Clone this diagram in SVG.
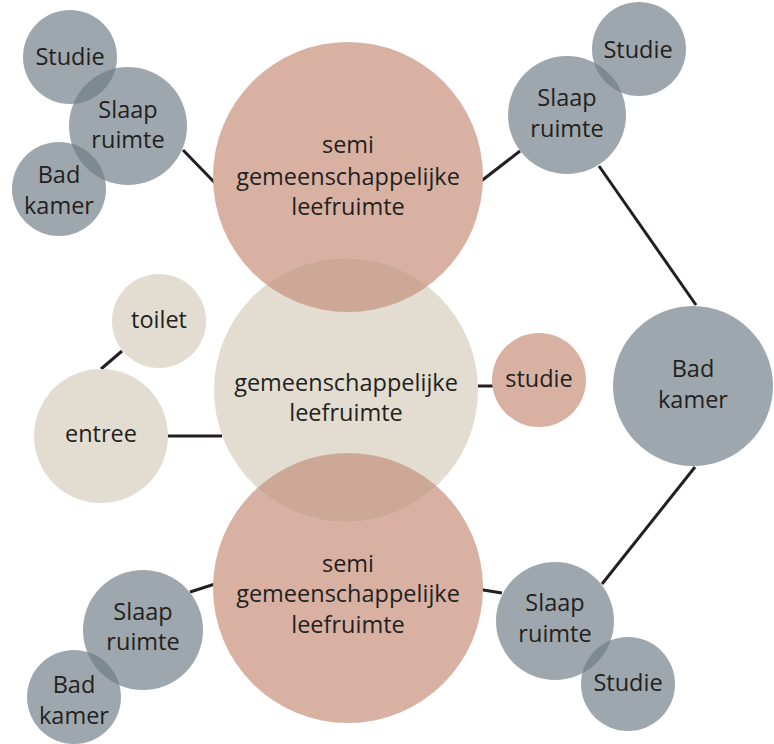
<svg xmlns="http://www.w3.org/2000/svg" width="774" height="744" viewBox="0 0 774 744">
<defs>
<style>
.grey{fill:#9ea7ad}
.pink{fill:#d8b1a3}
.beige{fill:#e2ddd0}
.lensg{fill:#7e8a91}
.lensp{fill:#cda896}
.conn{stroke:#231f20;stroke-width:3;fill:none}
text{font-family:"Open Sans","Noto Sans",sans-serif;font-size:23.5px;fill:#231f20;text-anchor:middle}
</style>
<clipPath id="c-tl-slaap"><circle cx="128" cy="126" r="59"/></clipPath>
<clipPath id="c-tr-slaap"><circle cx="567" cy="115" r="59"/></clipPath>
<clipPath id="c-bl-slaap"><circle cx="143" cy="630" r="60"/></clipPath>
<clipPath id="c-br-slaap"><circle cx="555" cy="621" r="59"/></clipPath>
<clipPath id="c-mid"><circle cx="346" cy="390" r="132"/></clipPath>
</defs>
<rect width="774" height="744" fill="#fff"/>
<g id="connectors">
<line class="conn" x1="183" y1="150" x2="215" y2="183"/>
<line class="conn" x1="480" y1="182" x2="520" y2="151"/>
<line class="conn" x1="599" y1="166" x2="696" y2="305"/>
<line class="conn" x1="695" y1="467" x2="602" y2="584"/>
<line class="conn" x1="478" y1="386" x2="493" y2="386"/>
<line class="conn" x1="122" y1="351" x2="101" y2="369"/>
<line class="conn" x1="167" y1="436" x2="222" y2="436"/>
<line class="conn" x1="190" y1="592" x2="215" y2="584"/>
<line class="conn" x1="477" y1="589" x2="502" y2="593"/>
</g>
<g id="semi-top"><circle class="pink" cx="348" cy="177" r="135"/></g>
<g id="semi-bottom"><circle class="pink" cx="348" cy="588" r="135"/></g>
<g id="gemeenschappelijk"><circle class="beige" cx="346" cy="390" r="132"/></g>
<g id="lens-mid">
<circle class="lensp" cx="348" cy="177" r="135" clip-path="url(#c-mid)"/>
<circle class="lensp" cx="348" cy="588" r="135" clip-path="url(#c-mid)"/>
</g>
<g id="semi-top-label"><text x="348" y="153">semi</text><text x="348" y="185">gemeenschappelijke</text><text x="348" y="215">leefruimte</text></g>
<g id="semi-bottom-label"><text x="348" y="572">semi</text><text x="348" y="602">gemeenschappelijke</text><text x="348" y="633">leefruimte</text></g>
<g id="gemeenschappelijk-label"><text x="346" y="391">gemeenschappelijke</text><text x="346" y="421">leefruimte</text></g>

<g id="tl-studie"><circle class="grey" cx="70" cy="57" r="47"/></g>
<g id="tl-bad"><circle class="grey" cx="59" cy="189" r="47"/></g>
<g id="tl-slaap"><circle class="grey" cx="128" cy="126" r="59"/></g>
<g id="tr-studie"><circle class="grey" cx="639" cy="49" r="47"/></g>
<g id="tr-slaap"><circle class="grey" cx="567" cy="115" r="59"/></g>
<g id="bl-slaap"><circle class="grey" cx="143" cy="630" r="60"/></g>
<g id="bl-bad"><circle class="grey" cx="74" cy="697" r="47"/></g>
<g id="br-slaap"><circle class="grey" cx="555" cy="621" r="59"/></g>
<g id="br-studie"><circle class="grey" cx="628" cy="684" r="47"/></g>
<g id="overlaps">
<circle class="lensg" cx="70" cy="57" r="47" clip-path="url(#c-tl-slaap)"/>
<circle class="lensg" cx="59" cy="189" r="47" clip-path="url(#c-tl-slaap)"/>
<circle class="lensg" cx="639" cy="49" r="47" clip-path="url(#c-tr-slaap)"/>
<circle class="lensg" cx="74" cy="697" r="47" clip-path="url(#c-bl-slaap)"/>
<circle class="lensg" cx="628" cy="684" r="47" clip-path="url(#c-br-slaap)"/>
</g>
<g id="labels-grey">
<text x="70" y="65">Studie</text>
<text x="128" y="118">Slaap</text><text x="128" y="148">ruimte</text>
<text x="59" y="183">Bad</text><text x="59" y="214">kamer</text>
<text x="638" y="58">Studie</text>
<text x="567" y="106">Slaap</text><text x="567" y="137">ruimte</text>
<text x="143" y="620">Slaap</text><text x="143" y="650">ruimte</text>
<text x="74" y="693">Bad</text><text x="74" y="724">kamer</text>
<text x="555" y="611">Slaap</text><text x="555" y="642">ruimte</text>
<text x="628" y="691">Studie</text>
</g>
<g id="badkamer"><circle class="grey" cx="693" cy="386" r="80"/><text x="693" y="377">Bad</text><text x="693" y="408">kamer</text></g>
<g id="studie"><circle class="pink" cx="539" cy="380" r="47"/><text x="539" y="387">studie</text></g>
<g id="toilet"><circle class="beige" cx="159" cy="321" r="47"/><text x="159" y="328">toilet</text></g>
<g id="entree"><circle class="beige" cx="101" cy="436" r="67"/><text x="101" y="442">entree</text></g>
</svg>
